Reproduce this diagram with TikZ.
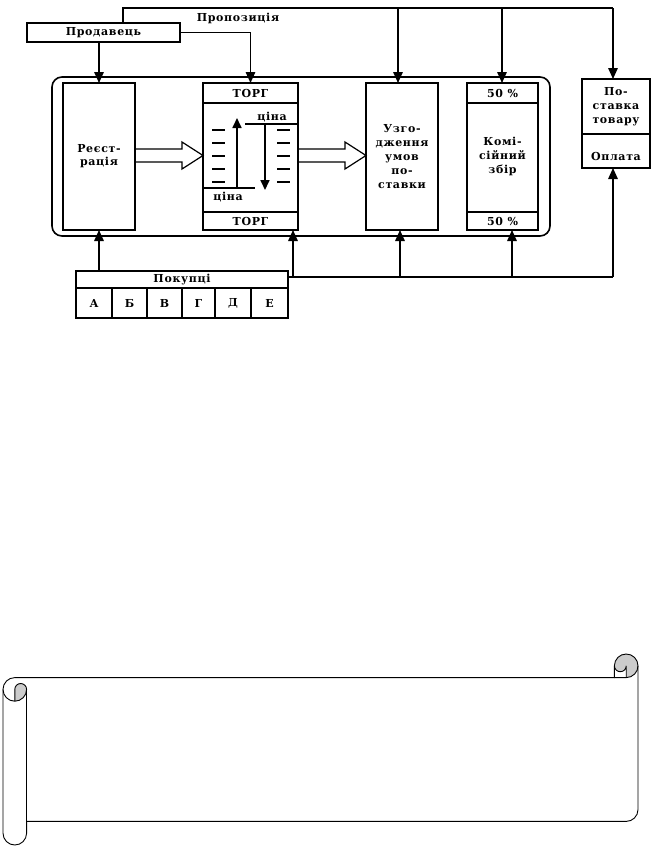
\documentclass[tikz,border=0pt]{standalone}
\usepackage{fontspec}
\setmainfont{DejaVu Serif}[LetterSpace=6]
\usetikzlibrary{arrows.meta,calc}
\begin{document}
\begin{tikzpicture}[x=1pt,y=-1pt,
  box/.style={draw,line width=1.6pt,inner sep=0pt,outer sep=0pt,anchor=north west,align=center,
    font=\bfseries\fontsize{11}{14}\selectfont},
  lbl/.style={font=\bfseries\fontsize{11}{14}\selectfont,inner sep=0pt},
  wire/.style={line width=1.5pt},
  conn/.style={line width=1.5pt,-{Triangle[length=11pt,width=9.5pt]}},
  inarr/.style={line width=1.7pt,-{Triangle[length=10pt,width=9pt]}},
  dashline/.style={line width=1.1pt},
  hollow/.style={line width=1.2pt,line join=miter},
  scroll/.style={line width=0.9pt}
]
\useasboundingbox (0,0) rectangle (660,847);

% ---------- boxes ----------
\node[box,minimum width=153pt,minimum height=19pt] (prod) at (27,23) {Продавець};
\node[draw,line width=1.6pt,outer sep=0pt,rounded corners=10pt,minimum width=498pt,minimum height=159pt,anchor=north west] (frame) at (52,77) {};
\node[box,minimum width=72pt,minimum height=147pt,fill=white] (reg) at (63,83) {Реєст-\\[-1pt]рація};
\node[box,minimum width=95pt,minimum height=147pt,fill=white] (torg) at (203,83) {};
\node[box,minimum width=72pt,minimum height=147pt,fill=white] (uzg) at (366,83) {Узго-\\дження\\умов\\по-\\ставки};
\node[box,minimum width=71pt,minimum height=147pt,fill=white] (kom) at (467,83) {Комі-\\сійний\\збір};
\node[box,minimum width=68pt,minimum height=89pt] (post) at (582,79) {};
\node[box,minimum width=212pt,minimum height=47pt] (buy) at (76,271) {};

% ТОРГ box content
\draw[wire] ($(torg.north west)+(0,20)$) -- ($(torg.north east)+(0,20)$);
\draw[wire] ($(torg.south west)+(0,-18)$) -- ($(torg.south east)+(0,-18)$);
\node[lbl] (torgt) at ($(torg.north)+(0,10)$) {ТОРГ};
\node[lbl] (torgb) at ($(torg.south)+(0,-9)$) {ТОРГ};
\draw[wire] ($(torg.north west)+(0,105)$) -- ($(torg.north west)+(52,105)$);
\node[lbl] (cina1) at ($(torg.north west)+(25,114)$) {ціна};
\draw[inarr] ($(torg.north west)+(34,105)$) -- ($(torg.north west)+(34,35)$);
\draw[wire] ($(torg.north west)+(42,41)$) -- ($(torg.north east)+(0,41)$);
\node[lbl] (cina2) at ($(torg.north west)+(69,34)$) {ціна};
\draw[inarr] ($(torg.north west)+(62,41)$) -- ($(torg.north west)+(62,107)$);
\foreach \dy in {47,60,73,86,99}{
  \draw[dashline] ($(torg.north west)+(9,\dy)$) -- ++(13,0);
  \draw[dashline] ($(torg.north west)+(74,\dy)$) -- ++(13,0);
}

% Комісійний збір dividers
\draw[wire] ($(kom.north west)+(0,20)$) -- ($(kom.north east)+(0,20)$);
\draw[wire] ($(kom.south west)+(0,-18)$) -- ($(kom.south east)+(0,-18)$);
\node[lbl] (komt) at ($(kom.north)+(0,10)$) {50 \%};
\node[lbl] (komb) at ($(kom.south)+(0,-9)$) {50 \%};

% Поставка товару / Оплата
\draw[wire] ($(post.north west)+(0,55)$) -- ($(post.north east)+(0,55)$);
\node[lbl,align=center] (postt) at ($(post.north)+(0,28)$) {По-\\ставка\\товару};
\node[lbl] (opl) at ($(post.south)+(0,-12)$) {Оплата};

% Покупці
\draw[wire] ($(buy.north west)+(0,17)$) -- ($(buy.north east)+(0,17)$);
\node[lbl] (buyt) at ($(buy.north)+(0,8.5)$) {Покупці};
\foreach \x in {112,147,182,215,251}{
  \draw[wire] (\x,288) -- (\x,318);
}
\node[lbl] (ca) at (94,303) {А};
\node[lbl] (cb) at (129.5,303) {Б};
\node[lbl] (cv) at (164.5,303) {В};
\node[lbl] (cg) at (198.5,303) {Г};
\node[lbl] (cd) at (233,303) {Д};
\node[lbl] (ce) at (269.5,303) {Е};

% ---------- top connectors ----------
\coordinate (t1) at (123,8);
\coordinate (t2) at (398,8);
\coordinate (t3) at (502,8);
\coordinate (t4) at (613,8);
\draw[wire] (prod.north -| t1) -- (t1) -- (t4);
\node[lbl] (prop) at (238,18) {Пропозиція};
\draw[conn] (t2) -- (uzg.north -| t2);
\draw[conn] (t3) -- (kom.north -| t3);
\draw[conn] (t4) -- (post.north -| t4);
\draw[conn] (prod.south -| reg.north) -- (reg.north);
\draw[conn] (prod.east) -- (prod.east -| torg.north) -- (torg.north);

% ---------- bottom connectors ----------
\coordinate (b1) at (293,277);
\coordinate (b2) at (400,277);
\coordinate (b3) at (512,277);
\coordinate (b4) at (613,277);
\draw[conn] (buy.north -| reg.south) -- (reg.south);
\draw[wire] (buy.east |- b4) -- (b4);
\draw[conn] (b1) -- (torg.south -| b1);
\draw[conn] (b2) -- (uzg.south -| b2);
\draw[conn] (b3) -- (kom.south -| b3);
\draw[conn] (b4) -- (post.south -| b4);

% ---------- hollow arrows ----------
\draw[hollow] ($(reg.east)+(0,-7.5)$) -- ++(47,0) -- ++(0,-7) -- ($(torg.west)+(0,-1)$)
  -- ($(reg.east)+(47,12.5)$) -- ++(0,-7) -- ($(reg.east)+(0,5.5)$);
\draw[hollow] ($(torg.east)+(0,-7.5)$) -- ++(47,0) -- ++(0,-7) -- ($(uzg.west)+(0,-1)$)
  -- ($(torg.east)+(47,12.5)$) -- ++(0,-7) -- ($(torg.east)+(0,5.5)$);

% ---------- scroll ----------
\def\sl{3}\def\st{654}\def\sr{638}\def\sb{845}
\def\ch{23.6}\def\chh{11.8}\def\chq{5.9}
% gray parts
\fill[black!20] (\sl+\chh,\st+2*\ch) arc[start angle=90,end angle=0,radius=\chh]
  arc[start angle=0,end angle=-180,radius=\chq] -- cycle;
\fill[black!20] (\sr-\chh,\st+\ch) arc[start angle=90,end angle=-180,radius=\chh]
  arc[start angle=180,end angle=0,radius=\chq] -- cycle;
% outline
\draw[scroll] (\sl,\st+\ch+\chh) arc[start angle=180,end angle=270,radius=\chh]
  -- (\sr-\ch,\st+\ch) -- (\sr-\ch,\st+\chh)
  arc[start angle=180,end angle=360,radius=\chh]
  -- (\sr,\sb-\ch-\chh) arc[start angle=0,end angle=90,radius=\chh]
  -- (\sl+\ch,\sb-\ch) -- (\sl+\ch,\sb-\chh)
  arc[start angle=0,end angle=180,radius=\chh] -- cycle;
\draw[scroll] (\sr-\ch,\st+\ch) -- (\sr-\chh,\st+\ch) arc[start angle=90,end angle=0,radius=\chh];
\draw[scroll] (\sr-\chh,\st+\ch) -- (\sr-\chh,\st+\chh) arc[start angle=0,end angle=180,radius=\chq];
\draw[scroll] (\sl+\chh,\st+2*\ch) -- (\sl+\chh,\st+\ch+\chh)
  arc[start angle=180,end angle=360,radius=\chq]
  arc[start angle=0,end angle=180,radius=\chh];
\draw[scroll] (\sl+\ch,\st+\ch+\chh) -- (\sl+\ch,\sb-\ch);
\end{tikzpicture}
\end{document}
